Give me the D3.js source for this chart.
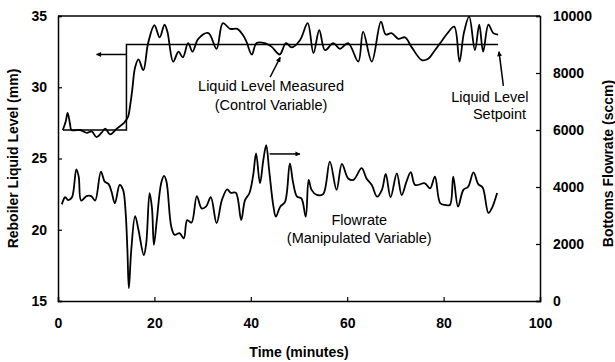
<!DOCTYPE html>
<html lang="en">
<head>
<meta charset="UTF-8">
<title>Reboiler Liquid Level Control</title>
<script src="https://cdn.jsdelivr.net/npm/d3@7/dist/d3.min.js"></script>
<style>
    body { margin: 0; background: #fff; }
    svg { font-family: "Liberation Sans", Arial, sans-serif; }
    .tick text { font-size: 14px; font-weight: bold; fill: #000; }
    .title { font-size: 14px; font-weight: bold; }
    .note { font-size: 14.5px; }
</style>
</head>
<body>
<svg id="chart" width="615" height="362"></svg>
<script>
    // time (minutes), level (mm)
    const levelData = [
        [1.0,27.0],[1.6,27.6],[2.0,28.2],[2.5,27.4],[2.8,27.0],[4.6,27.0],[6.0,26.8],[7.0,26.9],
        [8.0,26.5],[9.0,26.8],[9.8,27.1],[10.8,26.7],[12.2,27.1],[13.7,27.5],[14.5,27.9],[15.0,28.8],
        [15.4,29.8],[16.0,31.4],[16.7,31.95],[17.7,31.2],[18.7,33.1],[20.0,34.35],[21.1,33.5],[22.1,34.4],
        [22.7,33.9],[23.9,31.8],[25.0,32.5],[25.9,32.1],[27.0,33.1],[27.9,32.5],[29.1,33.4],[31.2,33.8],
        [32.9,32.7],[34.2,34.5],[35.7,34.1],[37.2,34.1],[38.3,33.7],[39.1,33.2],[40.2,32.3],[41.2,33.1],
        [42.9,33.1],[44.3,32.85],[46.0,32.3],[47.3,33.1],[48.5,32.8],[50.2,33.3],[51.8,34.5],[53.0,32.4],
        [54.2,34.0],[55.4,32.6],[57.1,33.1],[58.5,32.7],[60.2,33.1],[62.3,31.8],[63.3,33.9],[65.1,31.8],
        [67.0,34.6],[68.0,33.7],[69.2,33.8],[70.6,33.4],[72.0,33.5],[73.4,32.8],[75.5,31.9],[76.8,32.0],
        [78.2,32.6],[79.3,33.1],[80.6,33.7],[82.2,34.25],[83.3,31.8],[84.2,33.8],[85.3,34.95],[86.5,32.6],
        [87.4,34.4],[88.2,32.5],[89.3,34.4],[90.3,33.8],[91.3,33.7]
    ];

    // time (minutes), level setpoint (mm)
    const setpointData = [[1.0,27.0],[14.2,27.0],[14.2,33.0],[91.3,33.0]];

    // time (minutes), bottoms flowrate (sccm)
    const flowData = [
        [0.8,3390],[1.5,3640],[2.1,3540],[2.9,3640],[3.8,4620],[4.3,4360],[4.8,3520],[5.9,3680],
        [6.9,3680],[7.7,3520],[8.9,4540],[9.7,4190],[10.5,4100],[11.1,3840],[11.8,3430],[12.8,4070],
        [13.5,3900],[14.0,3190],[14.4,1790],[14.7,450],[15.2,1790],[16.0,2980],[16.7,2490],[17.8,1610],
        [18.3,2020],[19.0,3780],[19.5,3250],[19.9,1970],[20.5,2840],[21.4,4130],[22.0,4390],[22.5,4190],
        [23.5,2610],[24.2,2320],[25.2,2380],[26.1,2200],[26.8,2840],[27.7,2750],[28.8,3680],[29.8,3250],
        [30.7,3310],[31.7,3640],[32.9,2730],[34.0,3540],[35.1,3920],[35.8,3800],[36.9,3800],[38.0,2840],
        [38.8,3540],[39.7,3780],[40.5,4420],[41.1,5180],[41.9,4130],[42.6,4950],[43.2,5470],[43.8,4600],
        [44.7,3310],[45.2,2960],[46.1,3310],[47.1,3480],[48.1,4830],[48.8,4130],[49.6,3660],[50.5,3600],
        [51.4,2960],[52.0,4250],[52.6,3900],[53.7,3720],[55.0,3750],[56.4,4890],[57.8,3900],[58.9,4810],
        [60.2,4300],[61.3,4250],[63.0,4660],[64.0,4300],[65.1,4070],[66.2,3660],[67.2,3900],[68.0,4460],
        [69.0,3640],[70.3,4480],[71.3,3720],[72.3,4190],[73.2,4520],[74.1,4070],[76.1,4130],[77.2,3950],
        [78.2,4360],[79.3,3430],[80.3,3370],[81.3,3370],[82.0,4360],[83.0,3310],[84.1,3900],[85.1,4010],
        [86.2,4510],[87.2,4100],[88.1,3980],[89.3,3090],[90.0,3250],[91.1,3790]
    ];

    const xTicks = [0, 20, 40, 60, 80, 100];
    const levelTicks = [15, 20, 25, 30, 35];
    const flowTicks = [0, 2000, 4000, 6000, 8000, 10000];

    const margin = { top: 16, right: 75, bottom: 61, left: 58 };
    const width = 615 - margin.left - margin.right;
    const height = 362 - margin.top - margin.bottom;

    const svg = d3.select("#chart");
    const g = svg.append("g").attr("transform", `translate(${margin.left},${margin.top})`);

    const x = d3.scaleLinear().domain([0, 100]).range([0, width]);
    const yL = d3.scaleLinear().domain([15, 35]).range([height, 0]);
    const yR = d3.scaleLinear().domain([0, 10000]).range([height, 0]);

    // arrowhead
    svg.append("defs").append("marker")
        .attr("id", "head")
        .attr("viewBox", "0 0 10 10")
        .attr("refX", 9).attr("refY", 5)
        .attr("markerWidth", 8).attr("markerHeight", 5)
        .attr("markerUnits", "userSpaceOnUse")
        .attr("orient", "auto")
        .append("path").attr("d", "M0,0L10,5L0,10Z").attr("fill", "#000");

    // axes, ticks pointing inward
    const bottomAxis = g.append("g").attr("transform", `translate(0,${height})`)
        .call(d3.axisBottom(x).tickValues(xTicks).tickSize(-4).tickPadding(17));
    const leftAxis = g.append("g")
        .call(d3.axisLeft(yL).tickValues(levelTicks).tickSize(-4).tickPadding(11));
    const rightAxis = g.append("g").attr("transform", `translate(${width},0)`)
        .call(d3.axisRight(yR).tickValues(flowTicks).tickFormat(d3.format("d")).tickSize(-4).tickPadding(13));
    [bottomAxis, leftAxis, rightAxis].forEach(a => {
        a.select(".domain").attr("stroke", "#000").attr("stroke-width", 1.5);
        a.selectAll(".tick line").attr("stroke", "#000").attr("stroke-width", 1.2);
    });
    // top border
    g.append("line").attr("x1", 0).attr("x2", width).attr("y1", 0).attr("y2", 0)
        .attr("stroke", "#000").attr("stroke-width", 1.5);

    const levelLine = d3.line().x(d => x(d[0])).y(d => yL(d[1])).curve(d3.curveCatmullRom.alpha(0.5));
    const setLine = d3.line().x(d => x(d[0])).y(d => yL(d[1]));
    const flowLine = d3.line().x(d => x(d[0])).y(d => yR(d[1])).curve(d3.curveCatmullRom.alpha(0.5));

    g.append("path").datum(setpointData).attr("d", setLine)
        .attr("fill", "none").attr("stroke", "#000").attr("stroke-width", 1.5);
    g.append("path").datum(levelData).attr("d", levelLine)
        .attr("fill", "none").attr("stroke", "#000").attr("stroke-width", 1.8);
    g.append("path").datum(flowData).attr("d", flowLine)
        .attr("fill", "none").attr("stroke", "#000").attr("stroke-width", 1.8);

    // annotation arrows
    function arrow(x1, y1, x2, y2) {
        g.append("line")
            .attr("x1", x1).attr("y1", y1).attr("x2", x2).attr("y2", y2)
            .attr("stroke", "#000").attr("stroke-width", 1.5)
            .attr("marker-end", "url(#head)");
    }
    arrow(x(14.1), yL(32.3), x(8.0), yL(32.3));
    arrow(x(43.9), yR(5160), x(50.2), yR(5160));
    arrow(x(44.0), yL(30.7), x(46.1), yL(32.1));
    arrow(x(92.4), yL(30.1), x(91.5), yL(32.5));

    function note(tx, ty, lines, gap) {
        const t = g.append("text").attr("class", "note").attr("text-anchor", "middle");
        lines.forEach((s, i) => {
            t.append("tspan").attr("x", tx).attr("y", ty + i * gap).text(s);
        });
    }
    note(x(44.2), yL(29.74), ["Liquid Level Measured", "(Control Variable)"], 19);
    note(x(89.6), yL(28.94), ["Liquid Level"], 0);
    note(x(91.6), yL(27.8), ["Setpoint"], 0);
    note(x(62.5), yL(20.33), ["Flowrate", "(Manipulated Variable)"], 18);

    // axis titles
    svg.append("text").attr("class", "title").attr("text-anchor", "middle")
        .attr("x", margin.left + x(50)).attr("y", 357).text("Time (minutes)");
    svg.append("text").attr("class", "title").attr("text-anchor", "middle")
        .attr("transform", `translate(18,${margin.top + height / 2}) rotate(-90)`)
        .text("Reboiler Liquid Level (mm)");
    svg.append("text").attr("class", "title").attr("text-anchor", "middle")
        .attr("transform", `translate(613,${margin.top + height / 2 + 5}) rotate(-90)`)
        .text("Bottoms Flowrate (sccm)");
</script>
</body>
</html>
